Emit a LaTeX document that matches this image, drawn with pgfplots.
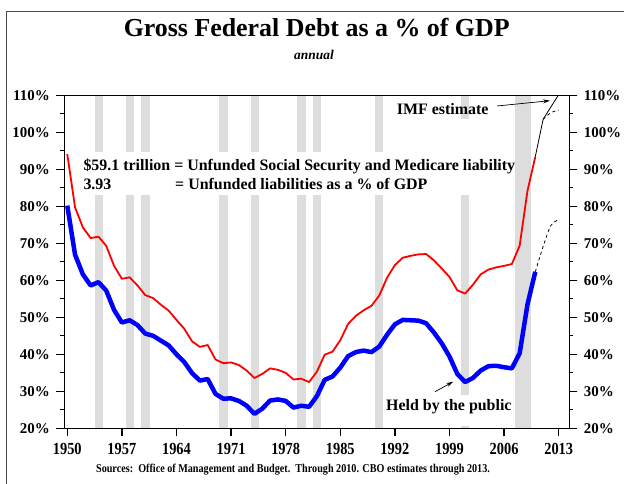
\documentclass[border=0pt]{standalone}
\usepackage{pgfplots}
\pgfplotsset{compat=1.18}
\usepackage{pgfplotstable}
\usepackage{fontspec}
\setmainfont{Liberation Serif}
\newfontfamily\condfont{Liberation Serif}[FakeStretch=0.85]
\newfontfamily\srcfont{Liberation Serif}[FakeStretch=0.85]
\usetikzlibrary{arrows.meta}
\definecolor{recgray}{RGB}{221,221,221}

\pgfplotstableread{
year gross public
1950 94.1 80.2
1951 79.7 66.9
1952 74.3 61.6
1953 71.4 58.6
1954 71.8 59.5
1955 69.3 57.2
1956 63.9 52.0
1957 60.4 48.6
1958 60.8 49.2
1959 58.6 47.9
1960 56.0 45.6
1961 55.2 45.0
1962 53.4 43.7
1963 51.8 42.4
1964 49.3 40.0
1965 46.9 37.9
1966 43.5 34.9
1967 42.0 32.9
1968 42.5 33.3
1969 38.6 29.3
1970 37.6 28.0
1971 37.8 28.1
1972 37.1 27.4
1973 35.6 26.1
1974 33.6 23.9
1975 34.7 25.3
1976 36.2 27.5
1977 35.8 27.8
1978 35.0 27.4
1979 33.2 25.6
1980 33.4 26.1
1981 32.5 25.8
1982 35.3 28.7
1983 39.9 33.1
1984 40.7 34.0
1985 43.8 36.4
1986 48.2 39.5
1987 50.4 40.6
1988 51.9 41.0
1989 53.1 40.6
1990 55.9 42.1
1991 60.7 45.3
1992 64.1 48.1
1993 66.1 49.3
1994 66.6 49.2
1995 67.0 49.1
1996 67.1 48.4
1997 65.4 45.9
1998 63.2 43.0
1999 60.9 39.4
2000 57.3 34.7
2001 56.4 32.5
2002 58.8 33.6
2003 61.6 35.6
2004 62.9 36.8
2005 63.5 36.9
2006 63.9 36.5
2007 64.4 36.2
2008 69.4 40.3
2009 84.2 53.5
2010 93.4 62.3
}\debt

\pgfplotsset{
  commonaxis/.style={
    at={(64.3bp,55.7bp)}, anchor=south west,
    scale only axis, width=505bp, height=333bp,
    xmin=1949.62, xmax=2014.36, ymin=20, ymax=110,
    ytick={20,30,...,110}, minor ytick={25,35,...,105},
    tick align=outside,
    major tick length=8bp, minor tick length=4bp,
    every tick/.style={black, line width=1.3bp},
    every minor tick/.style={black, line width=1.3bp},
    axis line style={black, line width=1.5bp},
    yticklabel={\pgfmathparse{int(\tick)}\pgfmathresult\%},
  }
}

\begin{document}
\begin{tikzpicture}
\useasboundingbox (0,0) rectangle (624bp,484bp);
\fill[white] (0,0) rectangle (624bp,484bp);

\begin{axis}[commonaxis,
  axis on top,
  ytick pos=left, xtick pos=bottom,
  yticklabel style={font=\bfseries\fontsize{15}{17}\selectfont, xshift=-3bp},
  xtick={1950,1957,1964,1971,1978,1985,1992,1999,2006,2013},
  xticklabels={1950,1957,1964,1971,1978,1985,1992,1999,2006,2013},
  xticklabel style={font=\condfont\bfseries\fontsize{17}{19}\selectfont, yshift=-3bp},
]
% recession bars
\addplot[fill=recgray, draw=none] coordinates {(1953.5,110) (1954.55,110)} \closedcycle;
\addplot[fill=recgray, draw=none] coordinates {(1957.5,110) (1958.55,110)} \closedcycle;
\addplot[fill=recgray, draw=none] coordinates {(1959.5,110) (1960.6,110)} \closedcycle;
\addplot[fill=recgray, draw=none] coordinates {(1969.5,110) (1970.6,110)} \closedcycle;
\addplot[fill=recgray, draw=none] coordinates {(1973.5,110) (1974.6,110)} \closedcycle;
\addplot[fill=recgray, draw=none] coordinates {(1979.45,110) (1980.55,110)} \closedcycle;
\addplot[fill=recgray, draw=none] coordinates {(1981.45,110) (1982.5,110)} \closedcycle;
\addplot[fill=recgray, draw=none] coordinates {(1989.45,110) (1990.5,110)} \closedcycle;
\addplot[fill=recgray, draw=none] coordinates {(2000.5,110) (2001.55,110)} \closedcycle;
\addplot[fill=recgray, draw=none] coordinates {(2007.4,110) (2009.5,110)} \closedcycle;

% projections
\addplot[black, line width=0.8bp] coordinates {(2010,93.4) (2011,103.5)};
\addplot[black, line width=0.8bp] coordinates {(2011,103.5) (2013,110.2)};
\addplot[black, line width=0.8bp, dashed, smooth] coordinates {(2011,103.5) (2012,105.3) (2013,106)};
\addplot[black, line width=0.8bp, dashed, smooth] coordinates {(2010,62.3) (2011,69.1) (2012,74.8) (2013,76.4)};

% data
\addplot[red, line width=1.8bp, line join=round] table[x=year, y=gross] {\debt};
\addplot[blue, line width=4.5bp, line join=round] table[x=year, y=public] {\debt};
\end{axis}

\begin{axis}[commonaxis,
  axis x line=none, axis y line*=right,
  yticklabel style={font=\bfseries\fontsize{15}{17}\selectfont, xshift=3bp},
]
\addplot[draw=none] coordinates {(1950,50)};
\end{axis}

% white boxes over the recession bars behind annotations
\fill[white] (80bp,289bp) rectangle (513bp,332.3bp);
\fill[white] (455bp,332bp) rectangle (476bp,365bp);
\fill[white] (384bp,57.5bp) rectangle (511bp,89bp);

% annotations
\node[anchor=base west, inner sep=0pt, font=\bfseries\fontsize{16}{19}\selectfont] at (83.3bp,313.3bp) {\$59.1 trillion = Unfunded Social Security and Medicare liability};
\node[anchor=base west, inner sep=0pt, font=\bfseries\fontsize{16}{19}\selectfont] at (83.3bp,294bp) {3.93};
\node[anchor=base west, inner sep=0pt, font=\bfseries\fontsize{16}{19}\selectfont] at (175bp,294bp) {= Unfunded liabilities as a \% of GDP};
\node[anchor=base west, inner sep=0pt, font=\bfseries\fontsize{16}{19}\selectfont] at (396.7bp,369bp) {IMF estimate};
\node[anchor=base west, inner sep=0pt, font=\bfseries\fontsize{16}{19}\selectfont] at (386bp,73.3bp) {Held by the public};
\draw[-{Stealth[length=7bp,width=4bp]}, line width=0.7bp] (497bp,378bp) -- (550bp,383.3bp);
\draw[-{Stealth[length=7bp,width=4bp]}, line width=0.7bp] (435bp,92.3bp) -- (453.3bp,102.3bp);

% titles
\node[anchor=base, inner sep=0pt, font=\bfseries\fontsize{26}{30}\selectfont] at (316.7bp,447bp) {Gross Federal Debt as a \% of GDP};
\node[anchor=base, inner sep=0pt, font=\bfseries\itshape\fontsize{13.5}{16}\selectfont] at (314bp,424bp) {annual};
\node[anchor=base, inner sep=0pt, font=\srcfont\bfseries\fontsize{12}{14}\selectfont] at (293bp,12bp) {Sources:\ \ Office of Management and Budget.\ \ Through 2010. CBO estimates through 2013.};

% frame
\draw[black!70, line width=1.2bp] (6.7bp,0) -- (6.7bp,472.3bp) -- (624bp,472.3bp);
\end{tikzpicture}
\end{document}
